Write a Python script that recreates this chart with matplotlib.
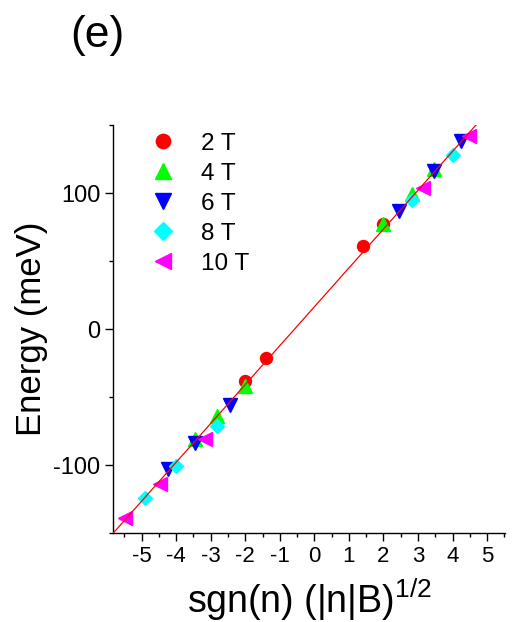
import matplotlib
matplotlib.use("Agg")
import matplotlib.pyplot as plt
from matplotlib.ticker import MultipleLocator

plt.rcParams["font.family"] = ["Liberation Sans", "DejaVu Sans"]
plt.rcParams["mathtext.fontset"] = "custom"
plt.rcParams["mathtext.rm"] = "Liberation Sans"
plt.rcParams["mathtext.default"] = "regular"
plt.rcParams["axes.unicode_minus"] = False

# 読み取った値: x = sgn(n)*sqrt(|n|B), y = Energy (meV)
x_2T = [1.41, 2.0, -1.41, -2.0]
y_2T = [61, 77, -21, -38]

x_4T = [2.0, 2.83, 3.46, -2.0, -2.83, -3.46]
y_4T = [77, 99, 118, -42, -64, -81]

x_6T = [2.45, 3.46, 4.24, -2.45, -3.46, -4.24]
y_6T = [87, 116, 138, -56, -84, -103]

x_8T = [2.83, 4.0, 4.9, -2.83, -4.0, -4.9]
y_8T = [95, 128, 156, -71, -101, -124]

x_10T = [3.16, 4.47, -3.16, -4.47, -5.48]
y_10T = [104, 142, -81, -114, -139]

# フィット直線
fit_slope = 28.57
fit_intercept = 16.3

xlim = (-5.83, 5.52)
ylim = (-150, 150)

fig = plt.figure(figsize=(5.12, 6.22), dpi=100)
ax = fig.add_axes([113 / 512, 1 - 533 / 622, 392 / 512, 408 / 622])

series = [
    (x_2T, y_2T, "o", "#FF0000", 8.6, "2 T"),
    (x_4T, y_4T, "^", "#00FF00", 9.5, "4 T"),
    (x_6T, y_6T, "v", "#0000FF", 9.5, "6 T"),
    (x_8T, y_8T, "D", "#00FFFF", 7.5, "8 T"),
    (x_10T, y_10T, "<", "#FF00FF", 9.5, "10 T"),
]
for xs, ys, mk, col, ms, lab in series:
    ax.plot(xs, ys, linestyle="none", marker=mk, color=col, mec=col,
            ms=ms, label=lab, zorder=2)

ax.plot(list(xlim), [fit_slope * v + fit_intercept for v in xlim],
        color="#FF0000", linewidth=0.9, zorder=3)

ax.set_xlim(*xlim)
ax.set_ylim(*ylim)

ax.spines["top"].set_visible(False)
ax.spines["right"].set_visible(False)
for s in ("left", "bottom"):
    ax.spines[s].set_linewidth(1.0)

ax.xaxis.set_major_locator(MultipleLocator(1))
ax.xaxis.set_minor_locator(MultipleLocator(0.5))
ax.yaxis.set_major_locator(MultipleLocator(100))
ax.yaxis.set_minor_locator(MultipleLocator(50))
ax.tick_params(which="major", direction="out", length=6, width=1.0, pad=3)
ax.tick_params(which="minor", direction="out", length=3, width=1.0)
ax.tick_params(axis="x", labelsize=16)
ax.tick_params(axis="y", labelsize=17)

ax.set_xlabel(r"sgn(n) (|n|B)$^{1/2}$", fontsize=27, labelpad=7)
ax.set_ylabel("Energy (meV)", fontsize=25, labelpad=4)

leg = ax.legend(loc="upper left", bbox_to_anchor=(0.035, 1.035), frameon=False,
                fontsize=17.5, markerscale=1.2, handletextpad=0.95,
                labelspacing=0.33, handlelength=1.2)

fig.text(97 / 512, 1 - 35 / 622, "(e)", fontsize=32, ha="center", va="center")

fig.savefig("out.png", dpi=100)
